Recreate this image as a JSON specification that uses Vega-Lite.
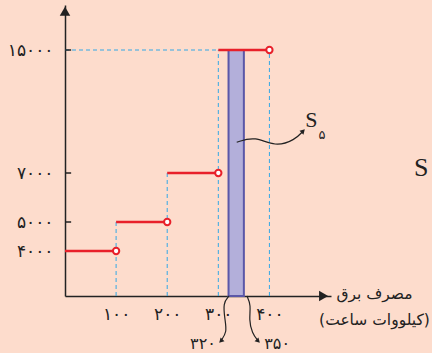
{
  "$schema": "https://vega.github.io/schema/vega-lite/v6.json",
  "width": 266,
  "height": 291,
  "autosize": "none",
  "padding": {"left": 65, "top": 5, "right": 101, "bottom": 57},
  "background": "#fddccc",
  "config": {"view": {"stroke": null}, "font": "DejaVu Sans"},
  "datasets": {
    "steps": [
      {"x": 0, "x2": 100, "y": 4000},
      {"x": 100, "x2": 200, "y": 5000},
      {"x": 200, "x2": 300, "y": 7000},
      {"x": 300, "x2": 400, "y": 15000}
    ],
    "vdash": [
      {"x": 100, "y": 0, "y2": 5000},
      {"x": 200, "y": 0, "y2": 7000},
      {"x": 300, "y": 0, "y2": 15000},
      {"x": 400, "y": 0, "y2": 15000}
    ],
    "curves": [
      {"c": "s5", "o": 1, "x": 336, "y": 9000},
      {"c": "s5", "o": 2, "x": 372, "y": 9400},
      {"c": "s5", "o": 3, "x": 411, "y": 8690},
      {"c": "s5", "o": 4, "x": 450, "y": 9150},
      {"c": "s5", "o": 5, "x": 466, "y": 9730},
      {"c": "a", "o": 1, "x": 321, "y": 0},
      {"c": "a", "o": 2, "x": 309, "y": -620},
      {"c": "a", "o": 3, "x": 313, "y": -2130},
      {"c": "a", "o": 4, "x": 317, "y": -3200},
      {"c": "a", "o": 5, "x": 305, "y": -4000},
      {"c": "b", "o": 1, "x": 356, "y": 0},
      {"c": "b", "o": 2, "x": 364, "y": -800},
      {"c": "b", "o": 3, "x": 360, "y": -2130},
      {"c": "b", "o": 4, "x": 366, "y": -3290},
      {"c": "b", "o": 5, "x": 378, "y": -4000}
    ]
  },
  "encoding": {
    "x": {"type": "quantitative", "scale": {"domain": [0, 520.5], "nice": false, "zero": false}},
    "y": {"type": "quantitative", "scale": {"domain": [0, 4000, 5000, 7000, 15000, 20000], "range": [291, 246, 217, 168, 45, 0], "nice": false, "zero": false}}
  },
  "layer": [
    {
      "data": {"values": [{"x": 320, "x2": 350, "y": 0, "y2": 15000}]},
      "mark": {"type": "rect", "fill": "#b3afda", "stroke": "#5b57a8", "strokeWidth": 2},
      "encoding": {
        "x": {"field": "x", "type": "quantitative", "axis": {"values": [100, 200, 300, 400], "labelExpr": "{'100':'۱۰۰','200':'۲۰۰','300':'۳۰۰','400':'۴۰۰'}[datum.label]", "ticks": false, "grid": false, "domainColor": "#222", "domainWidth": 1.5, "labelFontSize": 17, "labelColor": "#222", "labelPadding": 10, "title": ["مصرف برق", "(کیلووات ساعت)"], "titleFontSize": 15.5, "titleFontWeight": "normal", "titleColor": "#222", "titleX": 309, "titleY": -10, "titleBaseline": "top", "titleAlign": "center", "titleLineHeight": 26}},
        "x2": {"field": "x2"},
        "y": {"field": "y", "type": "quantitative", "axis": {"values": [4000, 5000, 7000, 15000], "labelExpr": "{'4000':'۴۰۰۰','5000':'۵۰۰۰','7000':'۷۰۰۰','15000':'۱۵۰۰۰'}[replace(datum.label, ',', '')]", "ticks": false, "grid": false, "domainColor": "#222", "domainWidth": 1.5, "labelFontSize": 17, "labelColor": "#222", "labelPadding": 12, "title": null}},
        "y2": {"field": "y2"}
      }
    },
    {
      "data": {"name": "vdash"},
      "mark": {"type": "rule", "color": "#33a8e6", "strokeWidth": 1, "strokeDash": [4, 3]},
      "encoding": {"x": {"field": "x", "type": "quantitative"}, "y": {"field": "y", "type": "quantitative"}, "y2": {"field": "y2"}}
    },
    {
      "data": {"values": [{"x": 0, "x2": 300, "y": 15000}]},
      "mark": {"type": "rule", "color": "#33a8e6", "strokeWidth": 1, "strokeDash": [4, 3]},
      "encoding": {"x": {"field": "x", "type": "quantitative"}, "x2": {"field": "x2"}, "y": {"field": "y", "type": "quantitative"}}
    },
    {
      "data": {"values": [{"x": 0, "x2": 12, "y": 5000}, {"x": 0, "x2": 12, "y": 7000}, {"x": 0, "x2": 12, "y": 15000}]},
      "mark": {"type": "rule", "color": "#222", "strokeWidth": 1.5},
      "encoding": {"x": {"field": "x", "type": "quantitative"}, "x2": {"field": "x2"}, "y": {"field": "y", "type": "quantitative"}}
    },
    {
      "data": {"name": "steps"},
      "mark": {"type": "rule", "color": "#e8202a", "strokeWidth": 2.5},
      "encoding": {"x": {"field": "x", "type": "quantitative"}, "x2": {"field": "x2"}, "y": {"field": "y", "type": "quantitative"}}
    },
    {
      "data": {"name": "steps"},
      "mark": {"type": "point", "shape": "circle", "filled": true, "fill": "white", "stroke": "#e8202a", "strokeWidth": 2, "size": 40, "opacity": 1},
      "encoding": {"x": {"field": "x2", "type": "quantitative"}, "y": {"field": "y", "type": "quantitative"}}
    },
    {
      "data": {"name": "curves"},
      "mark": {"type": "line", "interpolate": "basis", "color": "#222", "strokeWidth": 1.2, "clip": false},
      "encoding": {"x": {"field": "x", "type": "quantitative"}, "y": {"field": "y", "type": "quantitative"}, "detail": {"field": "c"}, "order": {"field": "o"}}
    },
    {
      "data": {"values": [
        {"x": 0, "y": 19300, "shape": "triangle-up", "a": 0, "s": 110},
        {"x": 506, "y": 0, "shape": "triangle-right", "a": 0, "s": 110},
        {"x": 466, "y": 9730, "shape": "triangle-right", "a": 315, "s": 30},
        {"x": 305, "y": -4000, "shape": "triangle-down", "a": 45, "s": 30},
        {"x": 378, "y": -4000, "shape": "triangle-down", "a": 315, "s": 30}
      ]},
      "mark": {"type": "point", "filled": true, "color": "#222", "opacity": 1, "clip": false},
      "encoding": {"x": {"field": "x", "type": "quantitative"}, "y": {"field": "y", "type": "quantitative"}, "shape": {"field": "shape", "type": "nominal", "scale": null}, "angle": {"field": "a", "type": "quantitative", "scale": null}, "size": {"field": "s", "type": "quantitative", "scale": null}}
    },
    {
      "data": {"values": [
        {"x": 482, "y": 10450, "t": "S", "fs": 22},
        {"x": 697, "y": 7300, "t": "S", "fs": 26}
      ]},
      "mark": {"type": "text", "font": "Liberation Serif", "color": "#222", "align": "center", "baseline": "middle", "clip": false},
      "encoding": {"x": {"field": "x", "type": "quantitative"}, "y": {"field": "y", "type": "quantitative"}, "text": {"field": "t"}, "size": {"field": "fs", "type": "quantitative", "scale": null}}
    },
    {
      "data": {"values": [
        {"x": 503, "y": 9450, "t": "۵", "fs": 13},
        {"x": 270, "y": -4300, "t": "۳۲۰", "fs": 16},
        {"x": 415, "y": -4300, "t": "۳۵۰", "fs": 16}
      ]},
      "mark": {"type": "text", "font": "DejaVu Sans", "color": "#222", "align": "center", "baseline": "middle", "clip": false},
      "encoding": {"x": {"field": "x", "type": "quantitative"}, "y": {"field": "y", "type": "quantitative"}, "text": {"field": "t"}, "size": {"field": "fs", "type": "quantitative", "scale": null}}
    }
  ]
}
